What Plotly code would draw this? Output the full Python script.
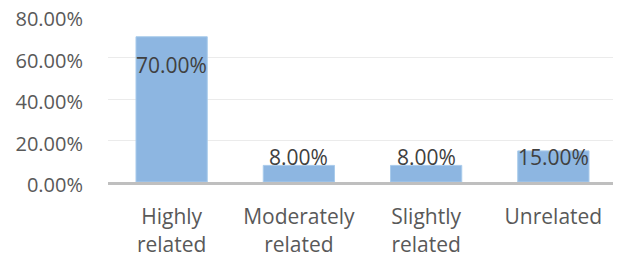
import plotly.graph_objects as go

categories = ["Highly<br>related", "Moderately<br>related", "Slightly<br>related", "Unrelated"]
values = [0.70, 0.08, 0.08, 0.15]
label_texts = ["70.00%", "8.00%", "8.00%", "15.00%"]
label_y = [0.564, 0.12, 0.12, 0.12]

fig = go.Figure()
fig.add_trace(go.Bar(x=categories, y=values, marker=dict(color="#8DB6E1", line=dict(color="#A9CBEB", width=1)),
                     hoverinfo="skip"))
for c, t, yy in zip(categories, label_texts, label_y):
    fig.add_annotation(x=c, y=yy, text=t, showarrow=False, yanchor="middle",
                       font=dict(family="Open Sans", size=21, color="#404040"))

# page body has an 8px default margin, so the figure is sized to fit inside it
fig.update_layout(
    width=613, height=252,
    margin=dict(l=100, r=4, t=8, b=78),
    paper_bgcolor="white", plot_bgcolor="white",
    bargap=0.44, showlegend=False,
    font=dict(family="Open Sans", size=21, color="#595959"),
)
fig.update_yaxes(range=[0, 0.8], dtick=0.2, tickformat=".2%", showgrid=True, gridcolor="#EBEBEB",
                 gridwidth=1, zeroline=False, ticks="outside", ticklen=20, tickcolor="rgba(0,0,0,0)",
                 automargin=False, ticklabeloverflow="allow", ticklabelshift=3,
                 tickfont=dict(size=20))
fig.update_xaxes(showline=True, linecolor="#BFBFBF", linewidth=3, ticks="outside", ticklen=14,
                 tickcolor="rgba(0,0,0,0)", automargin=False, ticklabeloverflow="allow")
fig.write_html("out.html")
